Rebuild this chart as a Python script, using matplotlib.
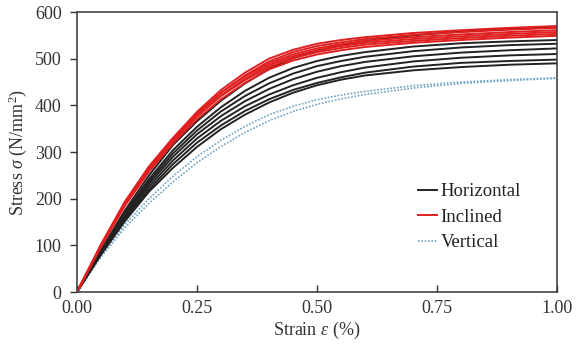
import matplotlib
matplotlib.use('Agg')
import matplotlib.pyplot as plt

plt.rcParams['font.family'] = ['Liberation Serif', 'DejaVu Serif']
plt.rcParams['mathtext.fontset'] = 'custom'
plt.rcParams['mathtext.rm'] = 'Liberation Serif'
plt.rcParams['mathtext.it'] = 'Liberation Serif:italic'

strain = [0, 0.05, 0.1, 0.15, 0.2, 0.25, 0.3, 0.35, 0.4, 0.45, 0.5, 0.55, 0.6, 0.7, 0.8, 0.9, 1.0]

# stress (N/mm2), horizontal specimens
horizontal = [
    [0, 90, 175, 250, 315, 366, 410, 447, 478, 501, 517, 529, 538, 550, 558, 564, 568],
    [0, 88, 170, 242, 304, 354, 396, 431, 459, 480, 495, 506, 514, 526, 533, 537, 540],
    [0, 87, 167, 237, 297, 346, 387, 420, 447, 468, 484, 495, 504, 516, 524, 529, 532],
    [0, 85, 164, 232, 290, 338, 377, 409, 435, 456, 472, 484, 493, 505, 513, 518, 522],
    [0, 84, 160, 226, 282, 329, 367, 398, 423, 443, 459, 471, 481, 494, 502, 507, 510],
    [0, 82, 156, 220, 274, 320, 357, 388, 413, 433, 448, 460, 470, 483, 491, 495, 498],
    [0, 80, 152, 215, 266, 311, 349, 380, 406, 427, 443, 455, 464, 475, 482, 487, 490],
]

# inclined specimens
inclined = [
    [0, 100, 192, 268, 330, 386, 433, 470, 500, 519, 532, 540, 546, 555, 561, 566, 570],
    [0, 99, 189, 264, 326, 381, 427, 464, 494, 514, 527, 535, 542, 551, 557, 562, 566],
    [0, 102, 194, 269, 330, 383, 427, 462, 490, 509, 522, 531, 538, 546, 552, 557, 561],
    [0, 98, 187, 261, 322, 376, 421, 457, 486, 505, 518, 527, 534, 542, 548, 553, 557],
    [0, 101, 191, 265, 325, 377, 420, 454, 482, 501, 514, 523, 530, 538, 544, 549, 553],
    [0, 97, 185, 258, 318, 370, 413, 448, 477, 496, 509, 518, 525, 534, 540, 545, 549],
]

# vertical specimens
vertical = [
    [0, 78, 145, 200, 248, 290, 325, 355, 380, 398, 412, 422, 430, 442, 450, 455, 459],
    [0, 75, 138, 190, 236, 277, 312, 342, 367, 387, 402, 414, 423, 437, 447, 453, 458],
]

fig = plt.figure(figsize=(5.81, 3.49), dpi=100)
ax = fig.add_axes([0.1325, 0.1633, 0.8262, 0.8023])

for i, s in enumerate(vertical):
    ax.plot(strain, s, color='#6fa3c4', lw=1.2, ls=(0, (1, 1)),
            label='Vertical' if i == 0 else None)
for i, s in enumerate(horizontal):
    ax.plot(strain, s, color='#222222', lw=1.4,
            label='Horizontal' if i == 0 else None)
for i, s in enumerate(inclined):
    ax.plot(strain, s, color='#e02020', lw=1.4,
            label='Inclined' if i == 0 else None)

ax.set_xlim(0, 1)
ax.set_ylim(0, 600)
ax.set_xticks([0, 0.25, 0.5, 0.75, 1.0])
ax.set_xticklabels(['0.00', '0.25', '0.50', '0.75', '1.00'])
ax.set_yticks(range(0, 601, 100))
ax.tick_params(axis='both', labelsize=13, colors='#333333', length=5, width=1)
ax.tick_params(axis='x', direction='in', pad=6)
ax.tick_params(axis='y', pad=6)
for sp in ax.spines.values():
    sp.set_color('#444444')
    sp.set_linewidth(1.2)

ax.set_xlabel(r'Strain $\varepsilon$ (%)', fontsize=13, color='#333333', labelpad=2)
ax.set_ylabel(r'Stress $\sigma$ (N/mm$^2$)', fontsize=13, color='#333333', labelpad=4)

h, l = ax.get_legend_handles_labels()
order = [l.index('Horizontal'), l.index('Inclined'), l.index('Vertical')]
ax.legend([h[k] for k in order], [l[k] for k in order], loc='lower right',
          bbox_to_anchor=(0.96, 0.085), frameon=False, fontsize=13.5,
          handlelength=1.0, handletextpad=0.2, labelspacing=0.45,
          labelcolor='#222222')

fig.savefig('out.png', dpi=100)
